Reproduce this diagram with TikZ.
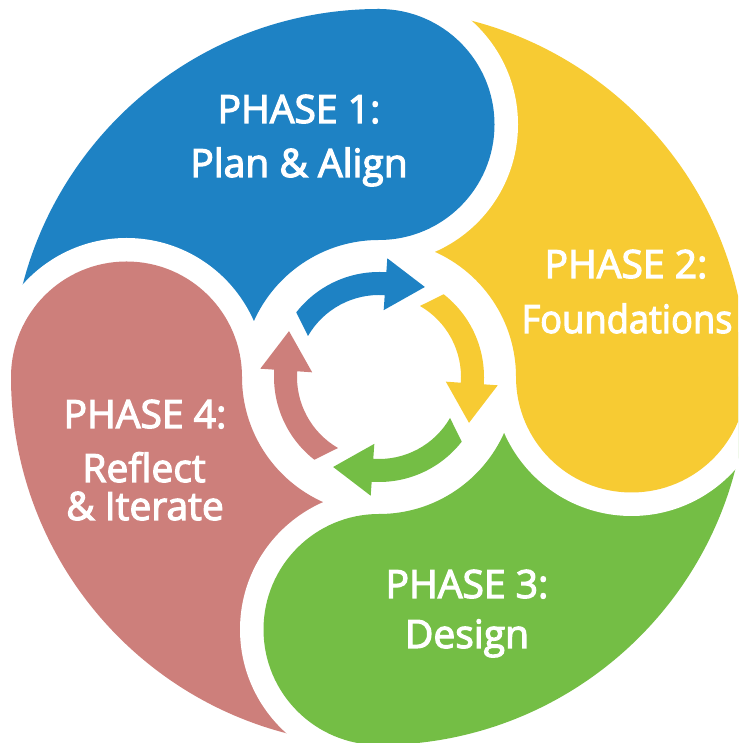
\documentclass[tikz,border=0pt]{standalone}
\usepackage{fontspec}
\newfontfamily\lblfont{Open Sans}[FakeBold=3]
\definecolor{cblue}{RGB}{30,130,196}
\definecolor{cyellow}{RGB}{247,203,51}
\definecolor{cgreen}{RGB}{116,190,69}
\definecolor{cpink}{RGB}{205,127,123}
\tikzset{
  lbl/.style={text=white, font=\lblfont\fontsize{39}{42}\selectfont, anchor=base, inner sep=0pt},
}
\begin{document}
\begin{tikzpicture}[x=1pt,y=1pt]
\useasboundingbox (0,0) rectangle (738,743);
\clip (0,0) rectangle (738,743);
\def\Ro{368}\def\Ri{137}\def\Rm{252.5}\def\Rb{115.5}\def\Rg{139}
\begin{scope}[shift={(379,366)}]
  % quadrant sectors with white cut-outs
  \foreach \a/\c [evaluate=\a as \b using \a+90] in {90/cblue,0/cyellow,-90/cgreen,180/cpink}{
    \begin{scope}
      \clip (0,0) -- (\a:420) arc[start angle=\a, end angle=\b, radius=420] -- cycle;
      \fill[\c, even odd rule] (0,0) circle[radius=\Ro] (0,0) circle[radius=\Ri];
      \fill[white] (\b:\Rm) circle[radius=\Rg];
    \end{scope}
  }
  % bulges
  \foreach \a/\c in {90/cblue,0/cyellow,-90/cgreen,180/cpink}{
    \fill[\c] (\a:\Rm) circle[radius=\Rb];
  }
  % inner arrows
  \foreach \k/\c in {0/cblue,1/cyellow,2/cgreen,3/cpink}{
    \begin{scope}[rotate=-90*\k]
      \fill[\c] (142:105) arc[start angle=142, end angle=86, radius=105]
        -- (86:119) -- (63:101) -- (86:67) -- (86:82)
        arc[start angle=86, end angle=150, radius=82] -- cycle;
    \end{scope}
  }
\end{scope}
% labels
\node[lbl] (p1a) at (299,620) {PHASE 1:};
\node[lbl] (p1b) at (299,566) {Plan \& Align};
\node[lbl] (p2a) at (626,465) {PHASE 2:};
\node[lbl, xscale=0.93, transform shape] (p2b) at (627,410) {Foundations};
\node[lbl] (p3a) at (467,145) {PHASE 3:};
\node[lbl] (p3b) at (467,95) {Design};
\node[lbl] (p4a) at (145,315) {PHASE 4:};
\node[lbl] (p4b) at (144,261) {Reflect};
\node[lbl] (p4c) at (145,223) {\& Iterate};
\end{tikzpicture}
\end{document}
